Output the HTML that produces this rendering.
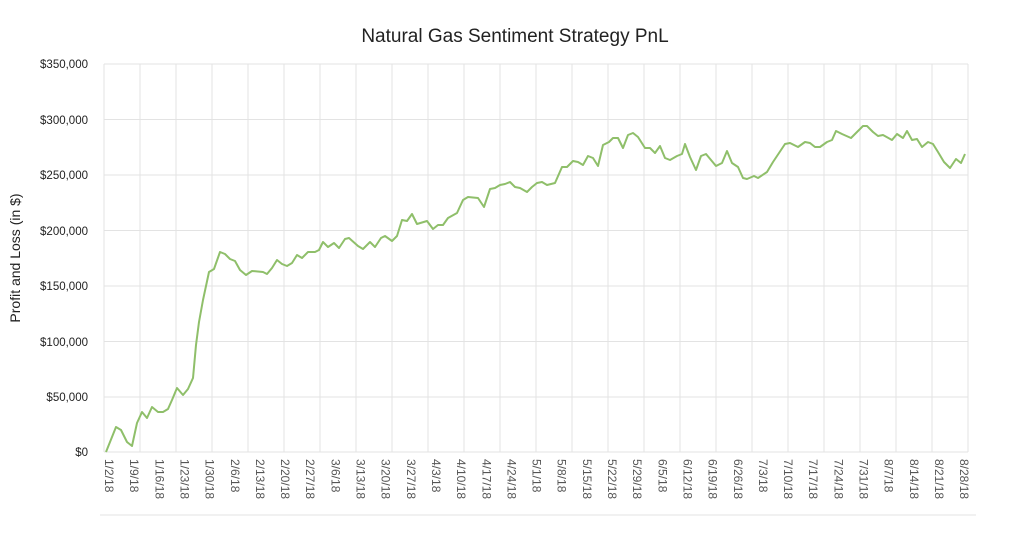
<!DOCTYPE html>
<html><head><meta charset="utf-8"><style>
html,body{margin:0;padding:0;background:#fff;}
svg{display:block;font-family:"Liberation Sans",sans-serif;}
</style></head><body>
<svg width="1030" height="537" viewBox="0 0 1030 537">
<rect width="1030" height="537" fill="#fff"/>
<text x="515" y="42" text-anchor="middle" font-size="19" fill="#222">Natural Gas Sentiment Strategy PnL</text>
<g stroke="#e3e3e3" stroke-width="1">
<line x1="104" y1="64" x2="968" y2="64"/><line x1="104" y1="119.5" x2="968" y2="119.5"/>
<line x1="104" y1="175" x2="968" y2="175"/><line x1="104" y1="230.5" x2="968" y2="230.5"/>
<line x1="104" y1="286" x2="968" y2="286"/><line x1="104" y1="341.5" x2="968" y2="341.5"/>
<line x1="104" y1="397" x2="968" y2="397"/><line x1="104" y1="452" x2="968" y2="452"/>
<line x1="100" y1="515" x2="976" y2="515"/>
</g>
<g stroke="#e3e3e3" stroke-width="1" id="vg"></g>
<g font-size="11.5" fill="#222" text-anchor="end">
<text x="88" y="68">$350,000</text><text x="88" y="124">$300,000</text>
<text x="88" y="179">$250,000</text><text x="88" y="235">$200,000</text>
<text x="88" y="290">$150,000</text><text x="88" y="346">$100,000</text>
<text x="88" y="401">$50,000</text><text x="88" y="456">$0</text>
</g>
<text transform="translate(20,258) rotate(-90)" text-anchor="middle" font-size="14" fill="#222">Profit and Loss (in $)</text>
<g id="xl" font-size="12" fill="#555"></g>
<polyline fill="none" stroke="#8fbf6a" stroke-width="2" stroke-linejoin="round" points="106,452 116,427 121,430 127,442 132,446 137,423 142,412 147,418 152,407 158,412 163,412 168,409 172,400 177,388 183,395 188,389 193,378 196,345 199,322 203,300 209,272 214,269 220,252 225,254 230,259 235,261 240,270 246,275 252,271 263,272 267,274 272,268 277,260 282,264 287,266 292,263 297,255 302,258 308,252 315,252 319,250 323,242 328,247 334,243 339,248 345,239 349,238 358,246 363,249 370,242 375,247 381,238 385,236 392,241 397,236 402,220 407,221 412,214 417,224 427,221 433,229 438,225 443,225 448,218 457,213 463,200 468,197 478,198 484,207 490,189 495,188 500,185 505,184 510,182 515,187 520,188 527,192 532,187 537,183 542,182 547,185 555,183 562,167 567,167 573,161 578,162 583,165 588,156 593,158 598,166 603,145 609,142 613,138 618,138 623,148 628,135 633,133 638,137 645,148 650,148 655,153 660,146 665,158 670,160 677,156 682,154 685,144 690,157 696,170 701,156 706,154 711,160 716,166 722,163 727,151 732,163 738,167 743,178 747,179 754,176 758,178 767,172 773,162 779,153 785,144 790,143 798,147 805,142 810,143 815,147 820,147 827,142 832,140 836,131 842,134 851,138 857,132 863,126 867,126 873,132 878,136 883,135 892,140 897,134 903,138 907,131 912,140 917,139 922,147 928,142 933,144 938,152 944,162 950,168 956,159 961,163 965,154"/>
</svg>
<script>
var ns="http://www.w3.org/2000/svg";
var vg=document.getElementById("vg");
for(var i=0;i<=24;i++){var x=104+i*36;var l=document.createElementNS(ns,"line");l.setAttribute("x1",x);l.setAttribute("x2",x);l.setAttribute("y1",64);l.setAttribute("y2",452);vg.appendChild(l);}
var labs=["1/2/18","1/9/18","1/16/18","1/23/18","1/30/18","2/6/18","2/13/18","2/20/18","2/27/18","3/6/18","3/13/18","3/20/18","3/27/18","4/3/18","4/10/18","4/17/18","4/24/18","5/1/18","5/8/18","5/15/18","5/22/18","5/29/18","6/5/18","6/12/18","6/19/18","6/26/18","7/3/18","7/10/18","7/17/18","7/24/18","7/31/18","8/7/18","8/14/18","8/21/18","8/28/18"];
var xl=document.getElementById("xl");
labs.forEach(function(t,i){var x=105+i*25.15;var e=document.createElementNS(ns,"text");e.setAttribute("transform","translate("+x+",459) rotate(90)");e.textContent=t;xl.appendChild(e);});
</script>
</body></html>
